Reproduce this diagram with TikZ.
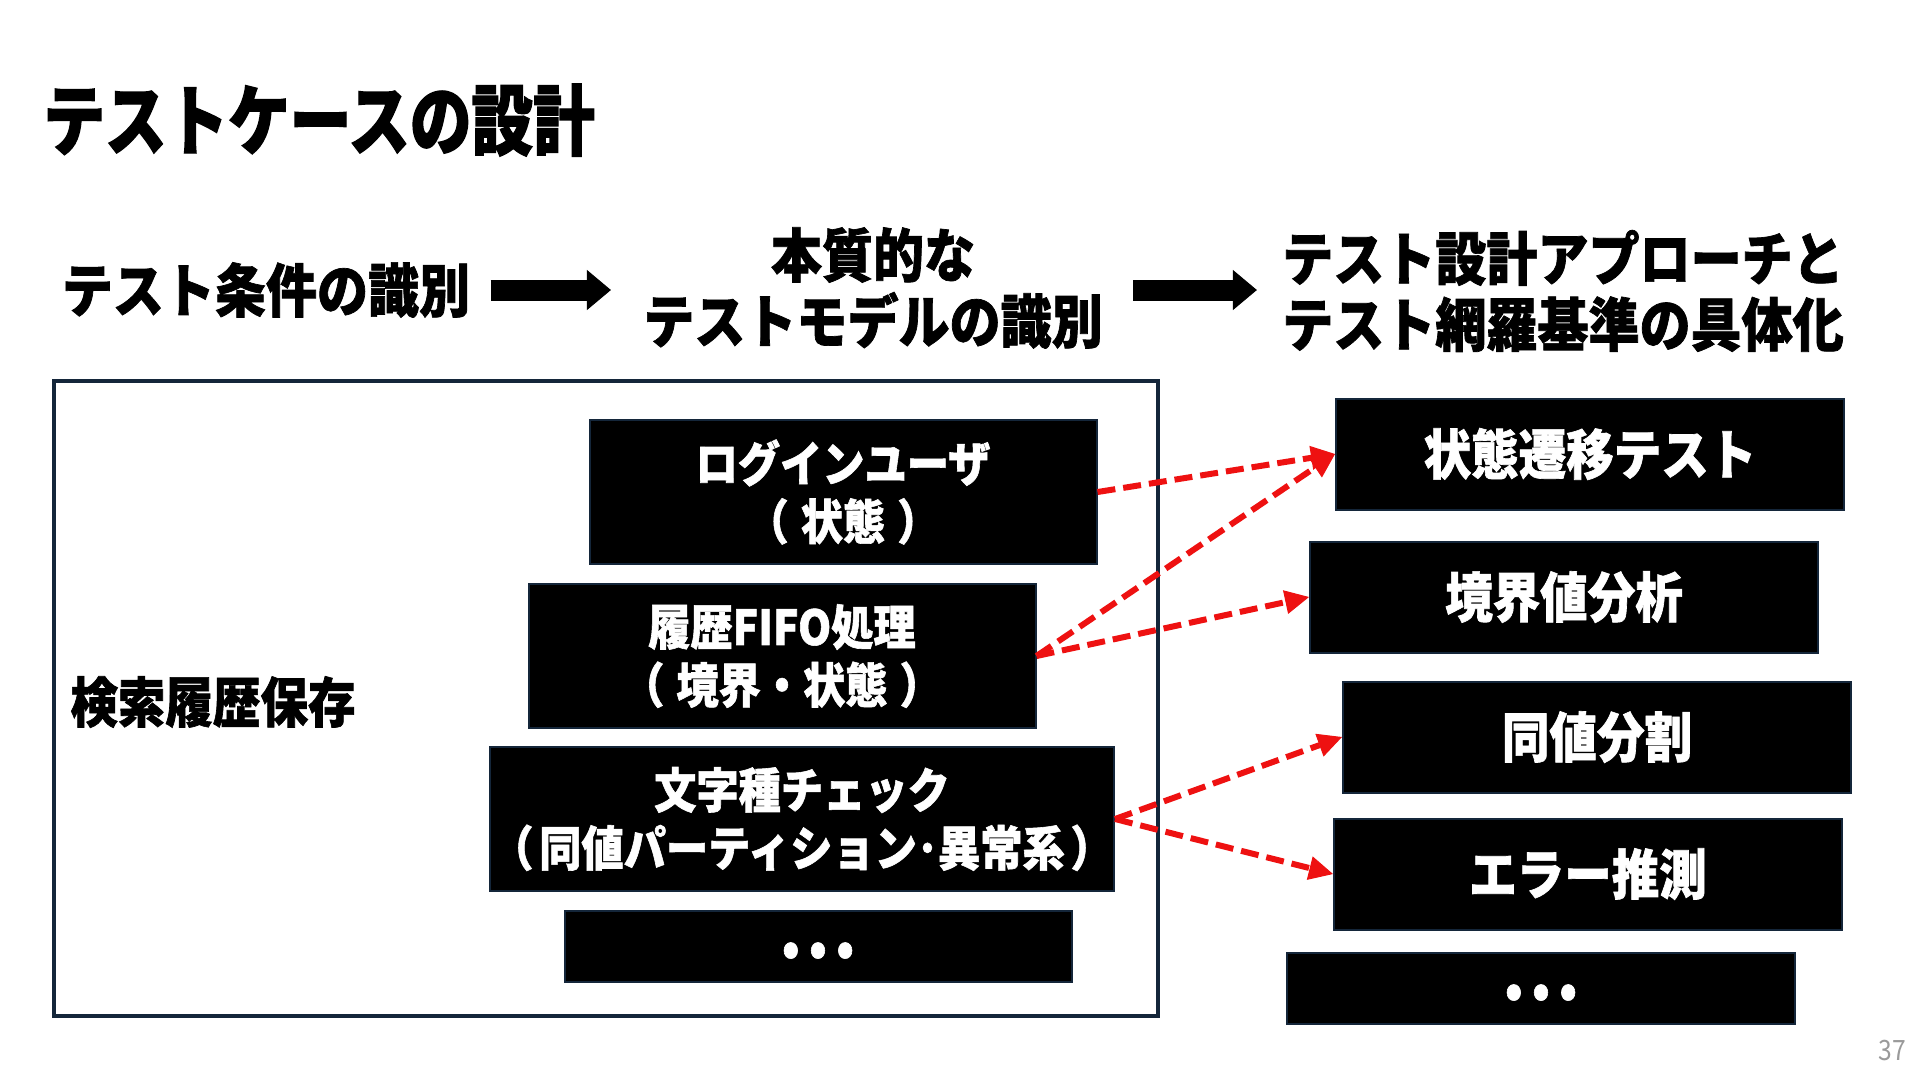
\documentclass[tikz,border=0pt]{standalone}
\usepackage{fontspec}
\usepackage{tikz}
\usetikzlibrary{arrows.meta}
\newfontfamily\jp[FakeStretch=0.88, BoldFeatures={FakeBold=1.2}]{Noto Sans CJK JP}
\newfontfamily\jptitle[FakeStretch=0.8, BoldFeatures={FakeBold=1.6}]{Noto Sans CJK JP}
\definecolor{navyline}{HTML}{14263A}
\definecolor{flowred}{HTML}{EE1111}
\definecolor{pagegray}{HTML}{9A9A9A}
% full-width brackets with their blank half
\newcommand{\zlp}[1][0.25em]{（\hspace{#1}}
\newcommand{\zrp}[1][0.25em]{\hspace{#1}）}
\newcommand{\moredots}{\raisebox{-4bp}[\height][\depth]{\fontsize{25bp}{25bp}\selectfont •\hspace{4.8bp}•\hspace{4.8bp}•}}

\tikzset{
  titletext/.style={inner sep=0pt, font=\jptitle\bfseries\fontsize{38.5bp}{44bp}\selectfont},
  headtext/.style={inner sep=0pt, align=center, font=\jp\bfseries\fontsize{29bp}{33bp}\selectfont},
  labeltext/.style={inner sep=0pt, font=\jp\bfseries\fontsize{27bp}{31bp}\selectfont},
  groupbox/.style={draw=navyline, line width=2bp, inner sep=0pt},
  condbox/.style={draw=navyline, line width=1bp, fill=black, text=white, align=center,
    inner sep=0pt, minimum width=253.5bp, minimum height=72bp,
    font=\jp\bfseries\fontsize{24bp}{29bp}\selectfont},
  techbox/.style={draw=navyline, line width=1bp, fill=black, text=white, align=center,
    inner sep=0pt, minimum width=254bp, minimum height=55.5bp,
    font=\jp\bfseries\fontsize{27bp}{31bp}\selectfont},
  bigarrow/.style={draw=black, line width=10.5bp,
    -{Triangle[length=12bp, width=20bp, line width=0.5bp]}},
  flow/.style={draw=flowred, line width=3bp, dash pattern=on 9bp off 4bp,
    -{Triangle[length=12bp, width=12bp, line width=0.5bp]}},
  pagenum/.style={inner sep=0pt, text=pagegray, font=\jp\fontsize{14bp}{16bp}\selectfont}
}

\begin{document}
\begin{tikzpicture}[x=0.5bp, y=-0.5bp]
  \useasboundingbox[fill=white] (0,0) rectangle (1920,1080);
  % title
  \node[titletext, anchor=west] (title) at (43,120) {テストケースの設計};
  % header row
  \node[headtext] (h1) at (266,290) {テスト条件の識別};
  \node[headtext] (h2) at (873,288) {本質的な\\テストモデルの識別};
  \node[headtext] (h3) at (1563,291) {テスト設計アプローチと\\テスト網羅基準の具体化};
  \draw[bigarrow] ([xshift=10bp]h1.east) -- ([xshift=-16bp]h1.east -| h2.west);
  \draw[bigarrow] ([xshift=15bp]h1.east -| h2.east) -- ([xshift=-12.5bp]h1.east -| h3.west);
  % test conditions
  \node[groupbox, minimum width=552bp, minimum height=317.5bp] (group) at (606,698.5) {};
  \node[labeltext, anchor=west] (grouplabel) at (70,702) {検索履歴保存};
  \node[condbox] (login) at (843,492) {ログインユーザ\\\zlp 状態\zrp};
  \node[condbox] (fifo) at (782,656) {履歴FIFO処理\\\zlp 境界・状態\zrp};
  \node[condbox, minimum width=312bp] (chartype) at (802,819) {文字種チェック\\\zlp[0.12em]同値パーティション･異常系\zrp[0.12em]};
  \node[condbox, minimum height=35.5bp] (condmore) at (818,946) {\moredots};
  % test techniques
  \node[techbox] (statetr) at (1590,454) {状態遷移テスト};
  \node[techbox] (boundary) at (1564,597) {境界値分析};
  \node[techbox] (equiv) at (1597,737) {同値分割};
  \node[techbox] (errguess) at (1588,874) {エラー推測};
  \node[techbox, minimum height=35.5bp] (techmore) at (1541,988) {\moredots};
  % mapping
  \draw[flow] (login.east) -- (statetr.west);
  \draw[flow] (fifo.east) -- (statetr.west);
  \draw[flow] (fifo.east) -- (boundary.west);
  \draw[flow] (chartype.east) -- (equiv.west);
  \draw[flow] (chartype.east) -- (errguess.west);
  \node[pagenum] (page) at (1892,1050) {37};
\end{tikzpicture}
\end{document}
